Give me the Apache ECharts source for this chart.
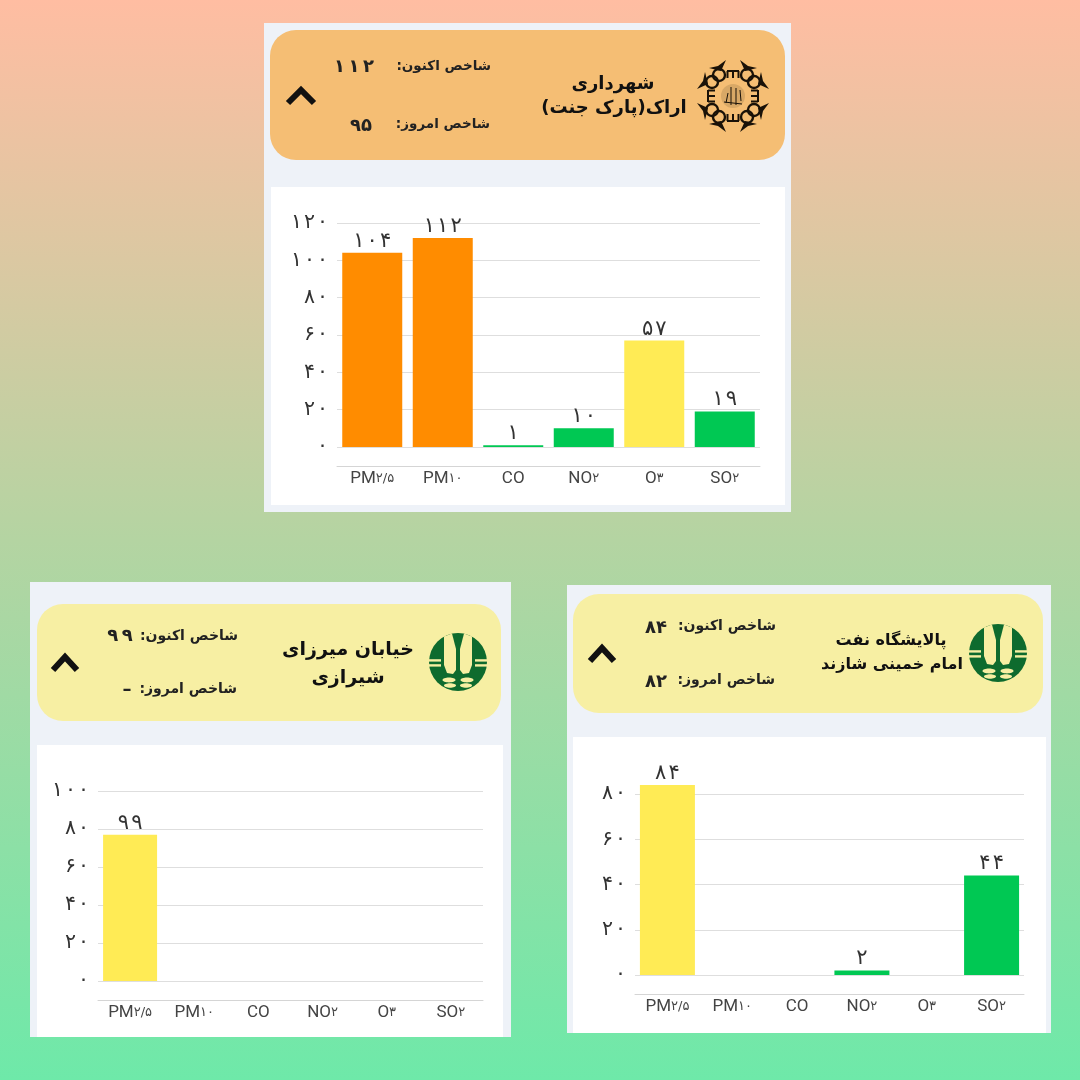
<!DOCTYPE html>
<html><head><meta charset="utf-8">
<style>html,body{margin:0;padding:0}#c{width:1080px;height:1080px}</style>
<script src="https://cdn.jsdelivr.net/npm/echarts@6/dist/echarts.min.js"></script>
</head><body><div id="c"></div>
<script>
const categories = ['PM۲/۵','PM۱۰','CO','NO۲','O۳','SO۲'];
const arakValues = [104,112,1,10,57,19];
const arakLabels = ['۱۰۴','۱۱۲','۱','۱۰','۵۷','۱۹'];
const shirazBarValues = [77,null,null,null,null,null];
const shirazLabels = ['۹۹','','','','',''];
const shazandValues = [84,null,null,2,null,44];
const shazandLabels = ['۸۴','','','۲','','۴۴'];
const ORANGE='#FF8C00', YELLOW='#FFEB55', GREEN='#00C853';
const arakColors = [ORANGE,ORANGE,GREEN,GREEN,YELLOW,GREEN];
const shirazColors = [YELLOW,YELLOW,YELLOW,YELLOW,YELLOW,YELLOW];
const shazandColors = [YELLOW,YELLOW,YELLOW,GREEN,YELLOW,GREEN];
const nowLabel = 'شاخص اکنون:\u200f';
const todayLabel = 'شاخص امروز:\u200f';
const faDigits = ['۰','۱','۲','۳','۴','۵','۶','۷','۸','۹'];
const toFa = v => String(v).replace(/\d/g, d => faDigits[d]).split('').join('\u200a');
const FA = '"DejaVu Sans"';

const cards = [
 {panel:[264,23,527,489], head:[270,30,515,130,26], white:[271,187,514,318], headColor:'#F5BE74', fs:13.5,
  title:[['شهرداری',613,84,18],['اراک(پارک جنت)\u200f',614,108,18]],
  now:[491,66,'۱\u2009۱\u2009۲',354,67], today:[490,124,'۹۵',361,126], chev:[301,96,13]},
 {panel:[30,582,481,455], head:[37,604,464,117,26], white:[37,745,466,292], headColor:'#F7EFA3', fs:14,
  title:[['خیابان میرزای',348,650,19],['شیرازی',348,678,19]],
  now:[238,636,'۹\u2009۹',120,636], today:[237,689,'–',127,690], chev:[65,663,12]},
 {panel:[567,585,484,448], head:[573,594,470,119,26], white:[573,737,473,296], headColor:'#F7EFA3', fs:14,
  title:[['پالایشگاه نفت',891,641,16],['امام خمینی شازند',892,665,16]],
  now:[776,626,'۸۴',656,628], today:[775,680,'۸۲',656,682], chev:[602,654,12]}
];
const gfx = [];
cards.forEach(c=>{
  gfx.push({type:'rect',silent:true,z:0,shape:{x:c.panel[0],y:c.panel[1],width:c.panel[2],height:c.panel[3]},style:{fill:'#EEF2F8'}});
  gfx.push({type:'rect',silent:true,z:0,shape:{x:c.white[0],y:c.white[1],width:c.white[2],height:c.white[3]},style:{fill:'#FFFFFF'}});
  gfx.push({type:'rect',silent:true,z:0,shape:{x:c.head[0],y:c.head[1],width:c.head[2],height:c.head[3],r:c.head[4]},style:{fill:c.headColor}});
  c.title.forEach(t=>gfx.push({type:'text',silent:true,z:1,x:t[1],y:t[2],style:{text:t[0],fill:'#111',font:'bold '+t[3]+'px '+FA,textAlign:'center',textVerticalAlign:'middle'}}));
  [[nowLabel,c.now],[todayLabel,c.today]].forEach(p=>{
    gfx.push({type:'text',silent:true,z:1,x:p[1][0],y:p[1][1],style:{text:p[0],fill:'#222',font:'bold '+c.fs+'px '+FA,textAlign:'right',textVerticalAlign:'middle'}});
    gfx.push({type:'text',silent:true,z:1,x:p[1][3],y:p[1][4],style:{text:p[1][2],fill:'#222',font:'bold 18px '+FA,textAlign:'center',textVerticalAlign:'middle'}});
  });
  const ch=c.chev;
  gfx.push({type:'polyline',silent:true,z:1,shape:{points:[[ch[0]-ch[2],ch[1]+7],[ch[0],ch[1]-6],[ch[0]+ch[2],ch[1]+7]]},style:{fill:null,stroke:'#111',lineWidth:6,lineJoin:'miter'}});
});
// Green emblem, decorative
function emblem(cx,cy,r){
  const G='#0E6B2E',W='#F7EFA3';
  const P=(x,y)=>[cx+x,cy+y];
  const add=o=>{o.silent=true;o.z=1;gfx.push(o);};
  add({type:'circle',shape:{cx,cy,r},style:{fill:G}});
  [-1,1].forEach(m=>{
    add({type:'polygon',shape:{points:[P(m*14,-25.5),P(m*6,-28.5),P(m*2,-13),P(m*2,8),P(m*5,12),P(m*11,11),P(m*14,3)]},style:{fill:W}});
    [[-2.8,2.4],[2.2,2.4]].forEach(s=>add({type:'rect',shape:{x:m<0?cx-29.5:cx+17,y:cy+s[0],width:12.5,height:s[1]},style:{fill:W}}));
    add({type:'ellipse',shape:{cx:cx+m*9,cy:cy+18,rx:6.5,ry:2.4},style:{fill:W}});
    add({type:'ellipse',shape:{cx:cx+m*8,cy:cy+23.5,rx:6,ry:2.2},style:{fill:W}});
  });
}
emblem(458,662,29); emblem(998,653,29);
// Arak ornament, decorative
(function(){
  const cx=733,cy=96,K='#1a1208';
  const add=o=>{o.silent=true;o.z=1;gfx.push(o);};
  [[1,1],[1,-1],[-1,1],[-1,-1]].forEach(q=>{
    [[14,21],[21,14]].forEach(p=>add({type:'circle',shape:{cx:cx+q[0]*p[0],cy:cy+q[1]*p[1],r:6},style:{fill:null,stroke:K,lineWidth:2.4}}));
    add({type:'polygon',shape:{points:[[cx+q[0]*7,cy+q[1]*36],[cx+q[0]*15,cy+q[1]*30],[cx+q[0]*24,cy+q[1]*28],[cx+q[0]*12,cy+q[1]*25]]},style:{fill:K}});
    add({type:'polygon',shape:{points:[[cx+q[0]*36,cy+q[1]*7],[cx+q[0]*30,cy+q[1]*15],[cx+q[0]*28,cy+q[1]*24],[cx+q[0]*25,cy+q[1]*12]]},style:{fill:K}});
  });
  [[0,-1],[1,0],[0,1],[-1,0]].forEach(d=>{
    const bar=(x1,y1,x2,y2)=>add({type:'polyline',shape:{points:[[cx+x1,cy+y1],[cx+x2,cy+y2]]},style:{stroke:K,lineWidth:2,fill:null}});
    const px=-d[1],py=d[0];
    bar(d[0]*25+px*6,d[1]*25+py*6,d[0]*25-px*6,d[1]*25-py*6);
    [-5.5,0,5.5].forEach(o=>bar(d[0]*25+px*o,d[1]*25+py*o,d[0]*18+px*o,d[1]*18+py*o));
  });
  add({type:'circle',shape:{cx,cy,r:12},style:{fill:'#D8A866'}});
  [[-7,7,-5,-3],[-2,9,-2,-9],[3,9,3,-8],[8,5,7,-6],[-9,6,9,8]].forEach(l=>add({type:'polyline',shape:{points:[[cx+l[0],cy+l[1]],[cx+l[2],cy+l[3]]]},style:{stroke:K,lineWidth:1,fill:null}}));
})();

const grids = [
 {left:337,right:1080-760,top:223,bottom:1080-447},
 {left:98,right:1080-483,top:791,bottom:1080-981},
 {left:635,right:1080-1024,top:794,bottom:1080-975}
];
const yMax=[120,100,80], yInterval=[20,20,20], xOffset=[19,19,19], barW=[60,54,55];
const data=[arakValues,shirazBarValues,shazandValues], labels=[arakLabels,shirazLabels,shazandLabels], colors=[arakColors,shirazColors,shazandColors];
const xAxis=grids.map((g,i)=>({type:'category',gridIndex:i,data:categories,offset:xOffset[i],
  axisTick:{show:false},axisLine:{show:true,onZero:false,lineStyle:{color:'#D5D5D5',width:1}},
  axisLabel:{margin:4,interval:0,color:'#444',
    formatter:v=>{const m=v.match(/^([A-Z]+)(.*)$/);return '{a|'+m[1]+'}'+(m[2]?'{b|'+m[2]+'}':'');},
    rich:{a:{fontFamily:'Roboto',fontSize:17,color:'#444'},b:{fontFamily:FA,fontSize:13,color:'#444'}}}}));
const yAxis=grids.map((g,i)=>({type:'value',gridIndex:i,min:0,max:yMax[i],interval:yInterval[i],
  axisLine:{show:false},axisTick:{show:false},splitLine:{show:true,lineStyle:{color:'#DEDEDE',width:1}},
  axisLabel:{color:'#333',fontSize:20.5,fontFamily:FA,margin:9,formatter:v=>toFa(v)}}));
const series=grids.map((g,i)=>({type:'bar',xAxisIndex:i,yAxisIndex:i,barWidth:barW[i],clip:false,silent:true,
  data:data[i].map((v,j)=>({value:v,itemStyle:{color:colors[i][j]}})),
  label:{show:true,position:'top',distance:1,color:'#333',fontSize:21,fontFamily:FA,
    formatter:p=>labels[i][p.dataIndex].split('').join('\u200a')}}));
const chart=echarts.init(document.getElementById('c'),null,{width:1080,height:1080,renderer:'canvas'});
chart.setOption({animation:false,
  backgroundColor:{type:'linear',x:0,y:0,x2:0,y2:1,colorStops:[{offset:0,color:'#FFBDA2'},{offset:.5,color:'#B4D4A2'},{offset:1,color:'#6EE9A9'}]},
  grid:grids.map(g=>Object.assign({containLabel:false},g)),xAxis,yAxis,series,
  graphic:{elements:gfx}});
</script></body></html>
